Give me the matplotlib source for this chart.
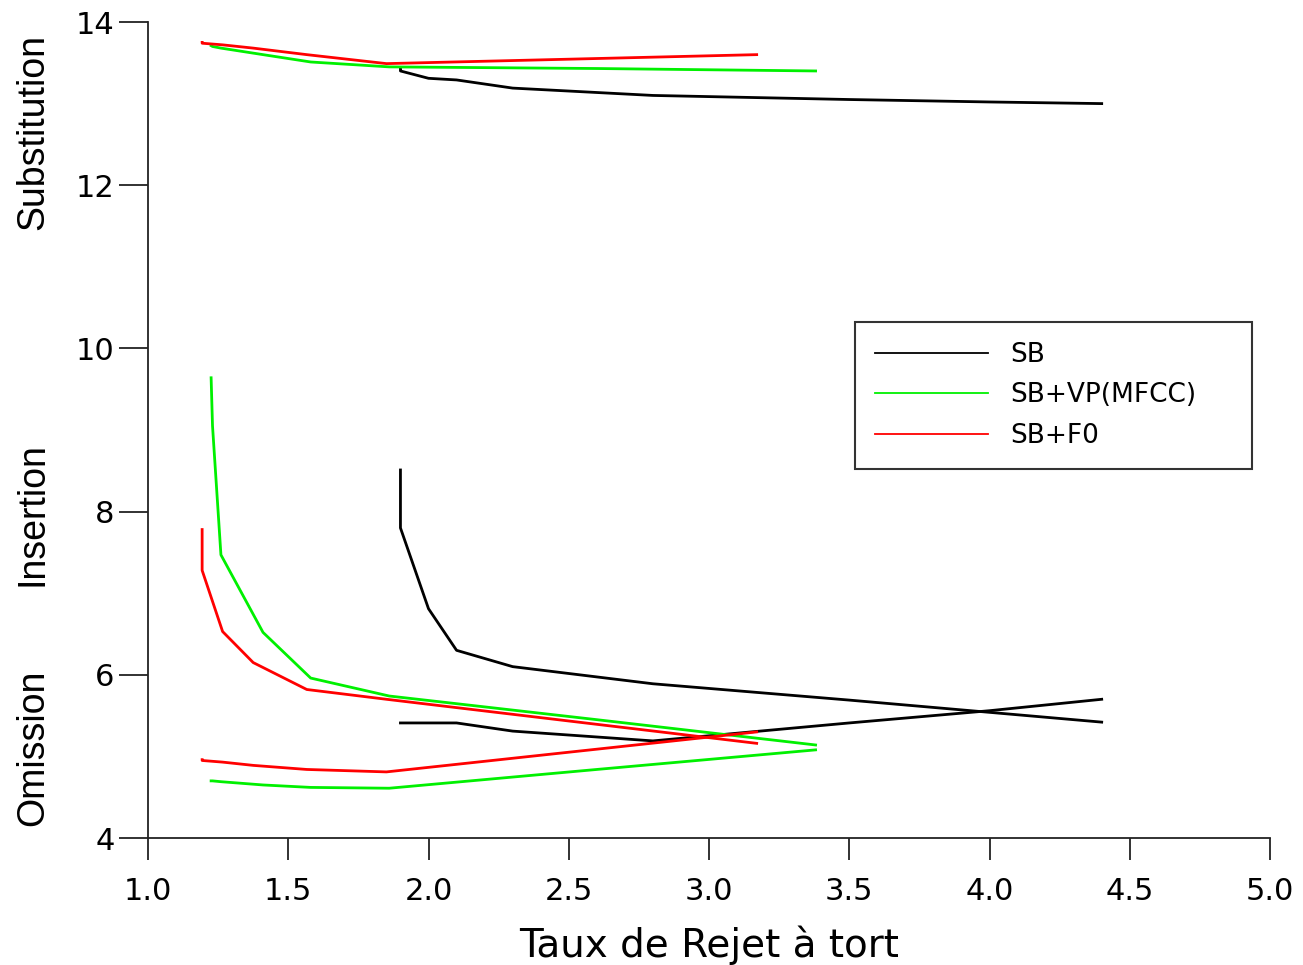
import matplotlib
matplotlib.use("Agg")
import matplotlib.pyplot as plt

# taux de rejet a tort (x) for each system, and the three error rates
sb_x = [1.90, 1.90, 2.00, 2.10, 2.30, 2.80, 3.50, 4.00, 4.40]
sb_ins = [8.51, 7.80, 6.81, 6.30, 6.10, 5.89, 5.69, 5.54, 5.42]
sb_omi = [5.41, 5.41, 5.41, 5.41, 5.31, 5.19, 5.41, 5.56, 5.70]
sb_sub = [13.42, 13.40, 13.31, 13.29, 13.19, 13.10, 13.05, 13.02, 13.00]

vp_x = [1.225, 1.23, 1.26, 1.41, 1.58, 1.86, 2.60, 3.38]
vp_ins = [9.64, 9.05, 7.47, 6.52, 5.96, 5.74, 5.45, 5.14]
vp_omi = [4.70, 4.70, 4.69, 4.65, 4.62, 4.61, 4.84, 5.08]
vp_sub = [13.71, 13.70, 13.68, 13.60, 13.51, 13.45, 13.43, 13.40]

f0_x = [1.193, 1.193, 1.266, 1.375, 1.566, 1.85, 3.17]
f0_ins = [7.78, 7.28, 6.53, 6.15, 5.82, 5.70, 5.16]
f0_omi = [4.96, 4.95, 4.93, 4.89, 4.84, 4.81, 5.30]
f0_sub = [13.75, 13.74, 13.72, 13.68, 13.60, 13.49, 13.60]

labels = ["SB", "SB+VP(MFCC)", "SB+F0"]
colors = ["#000000", "#00f000", "#ff0000"]

fig = plt.figure(figsize=(13.03, 9.65), dpi=100)
ax = fig.add_axes([148/1303, 1-838/965, (1270-148)/1303, (838-22)/965])

systems = [(sb_x, sb_ins, sb_omi, sb_sub),
           (vp_x, vp_ins, vp_omi, vp_sub),
           (f0_x, f0_ins, f0_omi, f0_sub)]

for (x, ins, omi, sub), lab, c in zip(systems, labels, colors):
    ax.plot(x, sub, color=c, lw=2.0, label=lab)
    ax.plot(x, ins, color=c, lw=2.0)
    ax.plot(x, omi, color=c, lw=2.0)

ax.set_xlim(1.0, 5.0)
ax.set_ylim(4, 14)
ax.set_xticks([1.0, 1.5, 2.0, 2.5, 3.0, 3.5, 4.0, 4.5, 5.0])
ax.set_xticklabels(["1.0", "1.5", "2.0", "2.5", "3.0", "3.5", "4.0", "4.5", "5.0"])
ax.set_yticks([4, 6, 8, 10, 12, 14])

for s in ["top", "right"]:
    ax.spines[s].set_visible(False)
for s in ["left", "bottom"]:
    ax.spines[s].set_color("#222222")
    ax.spines[s].set_linewidth(1.3)

ax.tick_params(axis="x", direction="out", length=16, width=1.3, color="#222222",
               pad=12, labelsize=22)
ax.tick_params(axis="y", direction="out", length=21, width=1.3, color="#222222",
               pad=3, labelsize=22)
for t in ax.get_xticklabels() + ax.get_yticklabels():
    t.set_family("DejaVu Sans")

ax.set_xlabel("Taux de Rejet à tort", family="DejaVu Sans", fontsize=28, labelpad=14)

# three y labels, one per group of curves
for txt, py in [("Substitution", 132), ("Insertion", 514), ("Omission", 748)]:
    fig.text(33/1303, 1 - py/965, txt, rotation=90, ha="center", va="center",
             family="Liberation Sans", fontsize=27)

leg = ax.legend(loc="upper left", bbox_to_anchor=(855/1303, 1-466/965, 397/1303, 144/965),
                bbox_transform=fig.transFigure, mode="expand", borderaxespad=0,
                fancybox=False, framealpha=1, edgecolor="#333333",
                prop={"family": "DejaVu Sans", "size": 19},
                handlelength=4.3, handletextpad=0.85, borderpad=0.75, labelspacing=0.55)
leg.get_frame().set_linewidth(1.5)
for ln in leg.get_lines():
    ln.set_linewidth(1.3)

fig.savefig("out.png", dpi=100)
